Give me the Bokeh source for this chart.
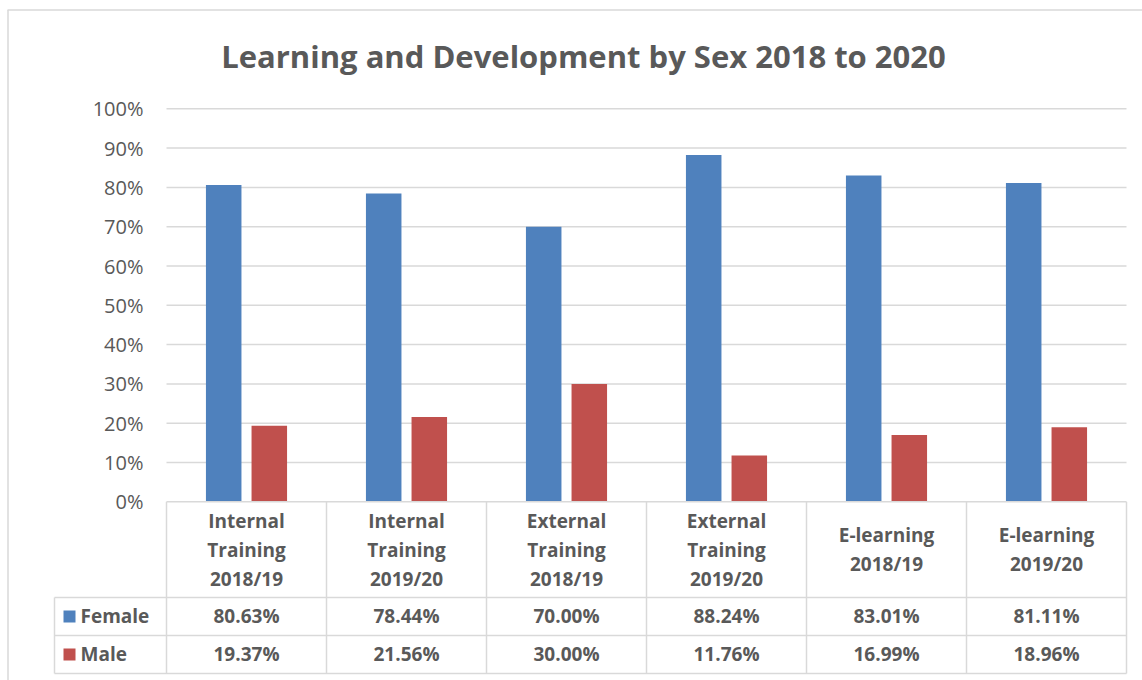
from bokeh.plotting import figure
from bokeh.models import Range1d
from bokeh.core.properties import value
from bokeh.embed import file_html
from bokeh.resources import INLINE
import numpy as np

# ---------------- data ----------------
title_text = "Learning and Development by Sex 2018 to 2020"
categories = ["Internal Training 2018/19", "Internal Training 2019/20",
              "External Training 2018/19", "External Training 2019/20",
              "E-learning 2018/19", "E-learning 2019/20"]
category_lines = [["Internal", "Training", "2018/19"],
                  ["Internal", "Training", "2019/20"],
                  ["External", "Training", "2018/19"],
                  ["External", "Training", "2019/20"],
                  ["E-learning", "2018/19"],
                  ["E-learning", "2019/20"]]
series_names = ["Female", "Male"]
female = [0.8063, 0.7844, 0.7000, 0.8824, 0.8301, 0.8111]
male = [0.1937, 0.2156, 0.3000, 0.1176, 0.1699, 0.1896]
female_labels = ["80.63%", "78.44%", "70.00%", "88.24%", "83.01%", "81.11%"]
male_labels = ["19.37%", "21.56%", "30.00%", "11.76%", "16.99%", "18.96%"]
y_ticks = [0.0, 0.1, 0.2, 0.3, 0.4, 0.5, 0.6, 0.7, 0.8, 0.9, 1.0]
y_tick_labels = ["0%", "10%", "20%", "30%", "40%", "50%", "60%", "70%", "80%", "90%", "100%"]

# ---------------- styles ----------------
BLUE = "#4F81BD"
RED = "#C0504D"
TXT = "#595959"
GRID = "#D9D9D9"
FONT = value("Open Sans")

W, H = 1142, 680
OX, OY = 0, 0  # page offset of the canvas

# page-pixel -> data helpers (layout only)
def px2x(px):
    return (px - 246.0) / 160.0

def py2y(py):
    return (501.3 - py) / 393.0

p = figure(width=W, height=H,
           x_range=Range1d(px2x(OX), px2x(OX + W)),
           y_range=Range1d(py2y(OY + H), py2y(OY)),
           output_backend="svg", toolbar_location=None,
           x_axis_location=None, y_axis_location=None,
           min_border=0, outline_line_color=None)
p.grid.visible = False
p.background_fill_color = "white"
p.border_fill_color = "white"

n = len(categories)
idx = np.arange(n)

# outer chart border (left and top visible)
p.segment(x0=[px2x(7.5), px2x(7)], y0=[py2y(9.5), py2y(9.5)],
          x1=[px2x(7.5), px2x(1142)], y1=[py2y(680), py2y(9.5)],
          line_color=GRID, line_width=1.5)

# gridlines
grid_y = [t for t in y_ticks if t > 0]
p.segment(x0=[-0.5] * len(grid_y), y0=grid_y, x1=[n - 0.5] * len(grid_y), y1=grid_y,
          line_color=GRID, line_width=1.5)

# y tick labels
p.text(x=[px2x(143)] * len(y_ticks), y=y_ticks, text=y_tick_labels,
       text_align="right", text_baseline="middle",
       text_font=FONT, text_font_size="20px", text_color=TXT)

# bars
p.vbar(x=idx - 0.1425, width=0.222, bottom=0, top=female, fill_color=BLUE, line_color=None)
p.vbar(x=idx + 0.1425, width=0.222, bottom=0, top=male, fill_color=RED, line_color=None)

# title
p.text(x=[px2x(583)], y=[py2y(55)], text=[title_text], text_align="center",
       text_baseline="middle", text_font=FONT, text_font_size="31px",
       text_font_style="bold", text_color=TXT)

# ---------------- data table ----------------
y_top = 0.0
y_head = py2y(597)
y_f = py2y(635)
y_m = py2y(673)
x_lab = px2x(54)

hx0 = [-0.5, x_lab, x_lab, x_lab]
hx1 = [n - 0.5] * 4
hy = [y_top, y_head, y_f, y_m]
p.segment(x0=hx0, y0=hy, x1=hx1, y1=hy, line_color=GRID, line_width=1.5)
vx = [k - 0.5 for k in range(n + 1)]
p.segment(x0=vx, y0=[y_top] * len(vx), x1=vx, y1=[y_m] * len(vx), line_color=GRID, line_width=1.5)
p.segment(x0=[x_lab], y0=[y_head], x1=[x_lab], y1=[y_m], line_color=GRID, line_width=1.5)

# header labels
lx, ly, lt = [], [], []
for i, lines in enumerate(category_lines):
    k = len(lines)
    for j, s in enumerate(lines):
        py = 549 + (j - (k - 1) / 2.0) * 29
        lx.append(i)
        ly.append(py2y(py))
        lt.append(s)
p.text(x=lx, y=ly, text=lt, text_align="center", text_baseline="middle",
       text_font=FONT, text_font_size="19px", text_font_style="bold", text_color=TXT)

# values
p.text(x=idx, y=[py2y(615)] * n, text=female_labels, text_align="center", text_baseline="middle",
       text_font=FONT, text_font_size="19px", text_font_style="bold", text_color=TXT)
p.text(x=idx, y=[py2y(653)] * n, text=male_labels, text_align="center", text_baseline="middle",
       text_font=FONT, text_font_size="19px", text_font_style="bold", text_color=TXT)

# legend keys in table
p.scatter(x=[px2x(69)] * 2, y=[py2y(616), py2y(654)], marker="square", size=12,
          fill_color=[BLUE, RED], line_color=None)
p.text(x=[px2x(80)] * 2, y=[py2y(615), py2y(653)], text=series_names,
       text_align="left", text_baseline="middle",
       text_font=FONT, text_font_size="19px", text_font_style="bold", text_color=TXT)

open("out.html", "w").write(file_html(p, INLINE))
